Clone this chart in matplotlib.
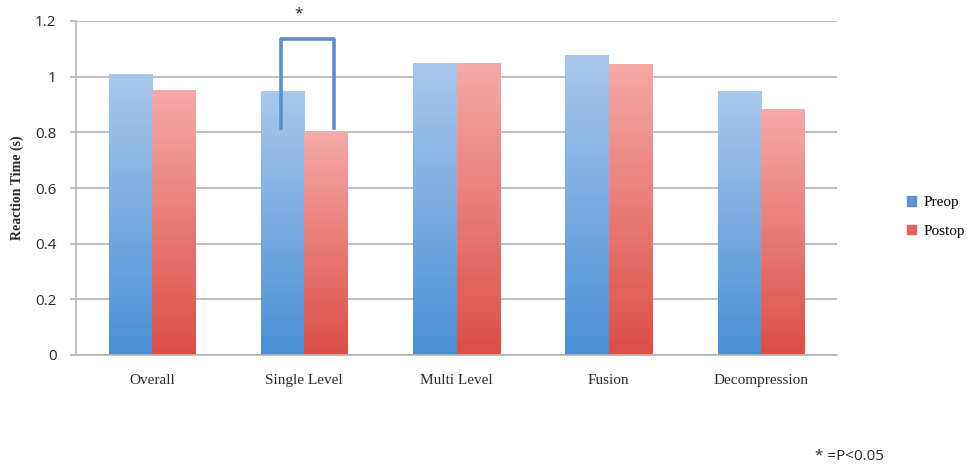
import matplotlib
matplotlib.use("Agg")
import matplotlib.pyplot as plt
import numpy as np
from matplotlib.colors import LinearSegmentedColormap
from matplotlib.patches import Rectangle

# ---------------------------------------
# Data
# ---------------------------------------

categories = ["Overall", "Single Level", "Multi Level", "Fusion", "Decompression"]
preop = [1.01, 0.95, 1.05, 1.078, 0.95]
postop = [0.953, 0.80, 1.05, 1.047, 0.885]
y_ticks = [0, 0.2, 0.4, 0.6, 0.8, 1, 1.2]
y_tick_labels = ["0", "0.2", "0.4", "0.6", "0.8", "1", "1.2"]

# significance bracket: (left end, right end, top) in data units
sig_bracket = (0.815, 0.815, 1.135)

BLUE_TOP, BLUE_BOTTOM = "#aac8ec", "#4a8fd6"
RED_TOP, RED_BOTTOM = "#f6aaa8", "#dc4e48"
GRID = "#b4b4b4"
TEXT = "#2a2a2a"

SERIF = ["Liberation Serif", "DejaVu Serif"]
SANS = ["Open Sans", "DejaVu Sans"]

BAR_W = 0.285


def gradient_bar(ax, x0, height, width, top, bottom):
    """Draw one bar filled with a vertical gradient (light top, dark bottom)."""
    cmap = LinearSegmentedColormap.from_list("g", [bottom, top])
    grad = np.linspace(0, 1, 256).reshape(-1, 1)
    img = ax.imshow(grad, cmap=cmap, origin="lower", aspect="auto",
                    extent=[x0, x0 + width, 0, height], zorder=2,
                    interpolation="bilinear")
    clip = Rectangle((x0, 0), width, height, transform=ax.transData)
    img.set_clip_path(clip)


fig = plt.figure(figsize=(9.67, 4.67), dpi=100)
ax = fig.add_axes([76 / 967, 112 / 467, (837 - 76) / 967, (355 - 21) / 467])

x = np.arange(len(categories))
for i in x:
    gradient_bar(ax, i - BAR_W, preop[i], BAR_W, BLUE_TOP, BLUE_BOTTOM)
    gradient_bar(ax, i, postop[i], BAR_W, RED_TOP, RED_BOTTOM)

ax.set_xlim(-0.5, len(categories) - 0.5)
ax.set_ylim(0, 1.2)

ax.set_yticks(y_ticks)
ax.set_yticklabels(y_tick_labels, fontfamily=SANS, fontsize=11, color=TEXT)
ax.set_xticks(x)
ax.set_xticklabels(categories, fontfamily=SERIF, fontsize=11, color=TEXT)
ax.tick_params(axis="x", length=0, pad=14)
ax.tick_params(axis="y", length=4, color=GRID, width=1.2, pad=10)

ax.grid(True, axis="y", color=GRID, linewidth=1.2, zorder=0)
ax.set_axisbelow(True)
for side in ["top", "right"]:
    ax.spines[side].set_visible(False)
for side in ["left", "bottom"]:
    ax.spines[side].set_color(GRID)
    ax.spines[side].set_linewidth(1.2)

ax.set_ylabel("Reaction Time (s)", fontfamily=SERIF, fontweight="bold",
              fontsize=10, color=TEXT, labelpad=8)

# significance bracket over Single Level
left_x = 1 - 0.15
right_x = 1 + 0.197
ax.plot([left_x, left_x, right_x, right_x],
        [sig_bracket[0], sig_bracket[2], sig_bracket[2], sig_bracket[1]],
        color="#5b8fcf", linewidth=2.6, zorder=4, solid_joinstyle="round",
        clip_on=False)
ax.text(1 - 0.04, 1.225, "*", ha="center", va="center", fontsize=11,
        color=TEXT, fontfamily=SANS)

# legend
handles = [Rectangle((0, 0), 1, 1, color="#5a93d8"),
           Rectangle((0, 0), 1, 1, color="#e06461")]
fig.legend(handles, ["Preop", "Postop"], loc="center left",
           bbox_to_anchor=(893 / 967, 1 - 217 / 467), frameon=False,
           handlelength=0.6, handleheight=0.6, handletextpad=0.5,
           labelspacing=1.0, prop={"family": SERIF, "size": 11})

fig.text(815 / 967, 1 - 456 / 467, "* =P<0.05", fontfamily=SANS,
         fontsize=11, color=TEXT, va="center")

fig.savefig("out.png", dpi=100, facecolor="white")
